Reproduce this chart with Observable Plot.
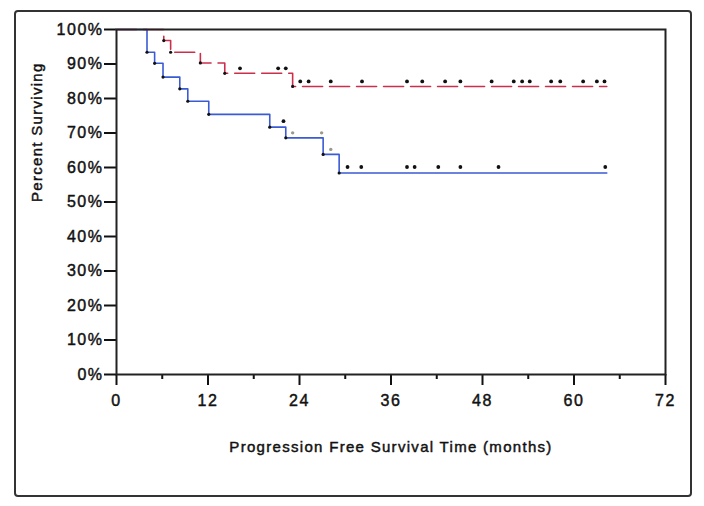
<!DOCTYPE html>
<html><head><meta charset="utf-8">
<script src="https://cdn.jsdelivr.net/npm/d3@7"></script>
<script src="https://cdn.jsdelivr.net/npm/@observablehq/plot@0.6"></script>
<style>
body{margin:0;background:#fff;}
#chart svg{font-family:"Liberation Sans",Arial,sans-serif;}
#chart svg text{letter-spacing:1.5px;stroke:#111;stroke-width:0.45px;paint-order:stroke;}
#chart svg g[aria-label="text"] text{letter-spacing:1.3px;}
</style></head><body><div id="chart"></div>
<script>
// Kaplan-Meier step data (months, percent surviving)
const redTimes  = [0, 6.2, 7.1, 11.0, 14.2, 23.1, 64.3];
const redSurv   = [100, 96.8, 93.4, 90.3, 87.3, 83.5, 83.5];
const blueTimes = [0, 4.0, 5.0, 6.1, 8.3, 9.35, 12.1, 20.1, 22.2, 27.1, 29.2, 64.3];
const blueSurv  = [100, 93.4, 90.2, 86.2, 82.8, 79.2, 75.4, 71.7, 68.6, 63.8, 58.4, 58.4];
// censored observations (months)
const redCensor  = [16.2, 21.2, 22.2, 24.1, 25.2, 28.1, 32.2, 38.1, 40.1, 43.1, 45.1, 49.2, 52.1, 53.2, 54.2, 57.0, 58.2, 61.2, 63.0, 64.0];
const blueCensor = [21.9, 30.3, 32.1, 38.1, 39.1, 42.2, 45.1, 50.1, 64.1];
const blueCensorFaint = [23.1, 26.9, 28.1];
// axes
const xTicks = [0, 12, 24, 36, 48, 60, 72];
const xMinor = [6, 18, 30, 42, 54, 66];
const yTicks = [0, 10, 20, 30, 40, 50, 60, 70, 80, 90, 100];
const xTitle = "Progression Free Survival Time (months)";
const yTitle = "Percent Surviving";

const toRows = (ts, ss) => ts.map((t, i) => ({t, s: ss[i]}));
const levelAt = (ts, ss, t) => { let v = ss[0]; ts.forEach((tt, i) => { if (tt <= t) v = ss[i]; }); return v; };
const redRows = toRows(redTimes, redSurv);
const blueRows = toRows(blueTimes, blueSurv);
const corners = rows => rows.slice(1, -1);
const censorRows = (cs, ts, ss) => cs.map(t => ({t, s: levelAt(ts, ss, t)}));

const RED = "#cc2f4b", BLUE = "#3a5bd4";

const plot = Plot.plot({
  width: 704, height: 506,
  marginLeft: 116, marginRight: 39, marginTop: 29, marginBottom: 132,
  x: {domain: [0, 72]},
  y: {domain: [0, 100]},
  style: {fontFamily: "Liberation Sans, Arial, sans-serif", fontSize: "16px", color: "#111", background: "#fff", overflow: "visible"},
  marks: [
    Plot.axisY({ticks: yTicks, tickSize: 12, tickPadding: 1, tickFormat: d => d + "%", strokeWidth: 2, label: null, fontSize: 16}),
    Plot.axisX({ticks: xTicks, tickSize: 11, tickPadding: 9, strokeWidth: 2, label: null, fontSize: 16}),
    Plot.axisX({ticks: xMinor, tickSize: 5, tickFormat: () => "", strokeWidth: 2, label: null}),
    Plot.line(blueRows, {x: "t", y: "s", curve: "step-after", stroke: BLUE, strokeWidth: 1.6}),
    Plot.line(redRows, {x: "t", y: "s", curve: "step-after", stroke: RED, strokeWidth: 1.6, strokeDasharray: "20,7"}),
    Plot.frame({stroke: "#222", strokeWidth: 2}),
    Plot.dot(corners(blueRows), {x: "t", y: "s", r: 1.6, fill: "#111", stroke: "none"}),
    Plot.dot(corners(redRows), {x: "t", y: "s", r: 1.6, fill: "#111", stroke: "none"}),
    Plot.dot(censorRows(redCensor, redTimes, redSurv), {x: "t", y: "s", dy: -5, r: 1.9, fill: "#111", stroke: "none"}),
    Plot.dot(censorRows(blueCensor, blueTimes, blueSurv), {x: "t", y: "s", dy: -6, r: 1.9, fill: "#111", stroke: "none"}),
    Plot.dot(censorRows(blueCensorFaint, blueTimes, blueSurv), {x: "t", y: "s", dy: -5, r: 1.7, fill: "#9a9a8a", stroke: "none"}),
    Plot.text([yTitle], {frameAnchor: "left", dx: -79, rotate: -90, fontSize: 15, fill: "#111"}),
    Plot.text([xTitle], {frameAnchor: "bottom", dy: 77, fontSize: 15, fill: "#111"})
  ]
});
d3.select(plot).append("rect")
  .attr("x", 15).attr("y", 11).attr("width", 676).attr("height", 485)
  .attr("rx", 3).attr("fill", "none").attr("stroke", "#333").attr("stroke-width", 2);
document.getElementById("chart").appendChild(plot);
</script></body></html>
